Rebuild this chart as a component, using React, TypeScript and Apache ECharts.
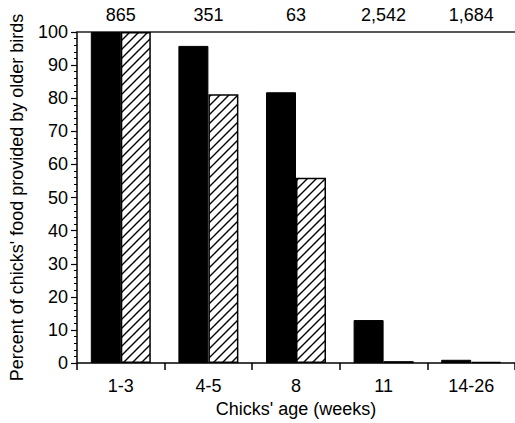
import React, { useEffect, useRef } from "react";
import * as echarts from "echarts";

const categories = ["1-3", "4-5", "8", "11", "14-26"];
const sampleSizes = ["865", "351", "63", "2,542", "1,684"];
const solidValues = [100, 95.8, 81.8, 13, 1];
const hatchedValues = [100, 81.2, 56, 0.6, 0.4];

const FONT = "'Liberation Sans', Arial, Helvetica, sans-serif";

function makeHatch(): HTMLCanvasElement {
  const c = document.createElement("canvas");
  const s = 9;
  c.width = s;
  c.height = s;
  const ctx = c.getContext("2d")!;
  ctx.fillStyle = "#fff";
  ctx.fillRect(0, 0, s, s);
  ctx.strokeStyle = "#000";
  ctx.lineWidth = 1.4;
  ctx.beginPath();
  ctx.moveTo(-1, s + 1);
  ctx.lineTo(s + 1, -1);
  ctx.moveTo(-1, 1);
  ctx.lineTo(1, -1);
  ctx.moveTo(s - 1, s + 1);
  ctx.lineTo(s + 1, s - 1);
  ctx.stroke();
  return c;
}

export default function App() {
  const ref = useRef<HTMLDivElement>(null);
  useEffect(() => {
    if (!ref.current) return;
    const chart = echarts.init(ref.current, undefined, { renderer: "svg" });
    const hatch = makeHatch();
    chart.setOption({
      animation: false,
      backgroundColor: "#fff",
      textStyle: { fontFamily: FONT, color: "#000" },
      grid: { left: 73, top: 32, width: 445, height: 332, containLabel: false },
      xAxis: [
        {
          type: "category",
          data: categories,
          position: "bottom",
          boundaryGap: true,
          axisLine: { show: true, lineStyle: { color: "#000", width: 1.5 } },
          axisTick: { show: true, length: 7, inside: false, lineStyle: { color: "#000", width: 1.5 } },
          axisLabel: { fontSize: 18, color: "#000", margin: 14, fontFamily: FONT },
          name: "Chicks' age (weeks)",
          nameLocation: "middle",
          nameGap: 34,
          nameTextStyle: { fontSize: 18, color: "#000", fontFamily: FONT },
        },
        {
          type: "category",
          data: sampleSizes,
          position: "top",
          boundaryGap: true,
          axisLine: { show: true, lineStyle: { color: "#222", width: 1.5 } },
          axisTick: { show: false },
          axisLabel: { fontSize: 18, color: "#000", margin: 8, fontFamily: FONT },
        },
      ],
      yAxis: {
        type: "value",
        min: 0,
        max: 100,
        interval: 10,
        axisLine: { show: true, lineStyle: { color: "#000", width: 1.5 } },
        axisTick: { show: true, length: 6, lineStyle: { color: "#000", width: 1.2 } },
        minorTick: { show: true, splitNumber: 5, length: 3, lineStyle: { color: "#000", width: 1 } },
        splitLine: { show: false },
        axisLabel: { fontSize: 18, color: "#000", margin: 9, fontFamily: FONT },
        name: "Percent of chicks' food provided by older birds",
        nameLocation: "middle",
        nameGap: 51,
        nameTextStyle: { fontSize: 18, color: "#000", fontFamily: FONT },
      },
      series: [
        {
          type: "bar",
          data: solidValues,
          barWidth: 30,
          barGap: "0%",
          itemStyle: { color: "#000", borderColor: "#000", borderWidth: 1 },
        },
        {
          type: "bar",
          data: hatchedValues,
          barWidth: 30,
          barGap: "0%",
          itemStyle: {
            color: { image: hatch, repeat: "repeat" },
            borderColor: "#000",
            borderWidth: 1.5,
          },
        },
      ],
    });
    return () => chart.dispose();
  }, []);
  return <div ref={ref} style={{ width: 515, height: 423, position: "absolute", left: 0, top: 0 }} />;
}
